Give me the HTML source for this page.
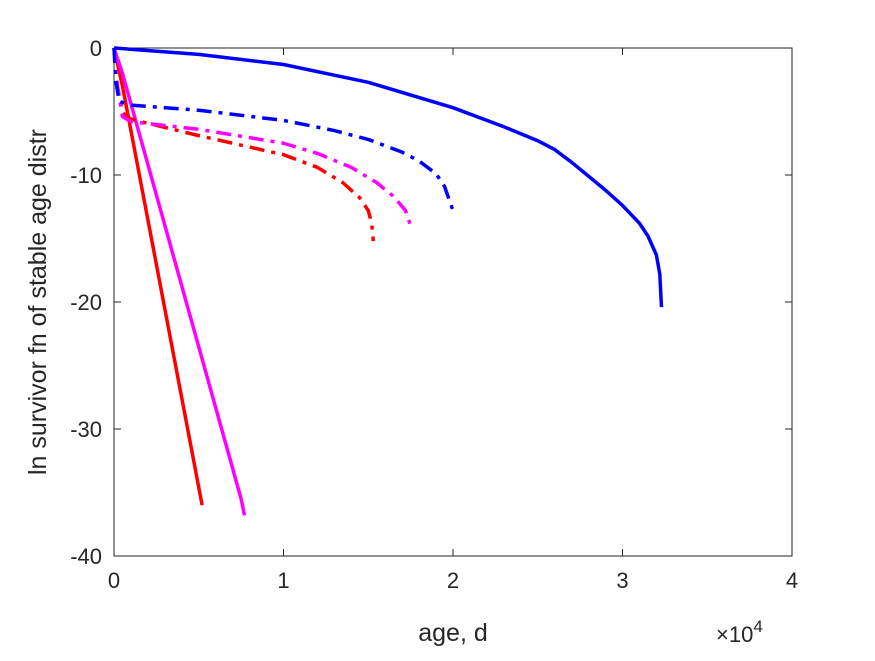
<!DOCTYPE html>
<html><head><meta charset="utf-8"><style>body{margin:0;background:#fff}svg{font-family:"Liberation Sans",sans-serif}</style></head>
<body>
<svg id="c" width="875" height="656"></svg>
<script>
const xTicks=[0,1,2,3,4];
const yTicks=[0,-10,-20,-30,-40];
const blueSolidX=[0,0.5,1,1.5,2,2.3,2.5,2.6,2.7,2.8,2.9,3,3.1,3.15,3.2,3.22,3.23];
const blueSolidY=[0,-0.5,-1.3,-2.7,-4.7,-6.2,-7.3,-8.0,-9.0,-10.1,-11.2,-12.4,-13.8,-14.8,-16.3,-17.8,-20.4];
const blueDashX=[0,0.01,0.03,0.1,0.5,1,1.3,1.5,1.7,1.8,1.9,1.95,2.0];
const blueDashY=[0,-2.5,-4.2,-4.5,-4.9,-5.7,-6.5,-7.2,-8.2,-8.9,-9.9,-10.9,-12.8];
const magDashX=[0,0.02,0.05,0.1,0.5,1,1.2,1.4,1.55,1.65,1.72,1.75];
const magDashY=[0,-3,-5.4,-5.8,-6.4,-7.5,-8.3,-9.4,-10.6,-11.7,-12.8,-14];
const redDashX=[0,0.02,0.05,0.1,0.5,1,1.2,1.35,1.45,1.5,1.52,1.53];
const redDashY=[0,-3,-5.1,-5.6,-6.9,-8.4,-9.4,-10.6,-11.8,-12.8,-13.8,-15.2];
const redSolidX=[0,0.05,0.52];
const redSolidY=[0,-3,-36];
const magSolidX=[0,0.05,0.75,0.77];
const magSolidY=[0,-2,-35.5,-36.8];
const L=114,R=792,T=48,B=556;
const sx=v=>L+(v-0)/4*(R-L), sy=v=>T+(0-v)/40*(B-T);
const svg=document.getElementById('c');const NS='http://www.w3.org/2000/svg';
function mk(t,a,p){const e=document.createElementNS(NS,t);for(const k in a)e.setAttribute(k,a[k]);(p||svg).appendChild(e);return e;}
const box=mk('rect',{x:L,y:T,width:R-L,height:B-T,fill:'#fff',stroke:'#262626','stroke-width':1});


xTicks.forEach(v=>{mk('line',{x1:sx(v),x2:sx(v),y1:B,y2:B-7,stroke:'#262626'});mk('line',{x1:sx(v),x2:sx(v),y1:T,y2:T+7,stroke:'#262626'});
 const t=mk('text',{x:sx(v),y:B+32,'text-anchor':'middle','font-size':22,fill:'#262626'});t.textContent=v;
 
 });
yTicks.forEach(v=>{mk('line',{x1:L,x2:L+7,y1:sy(v),y2:sy(v),stroke:'#262626'});mk('line',{x1:R,x2:R-7,y1:sy(v),y2:sy(v),stroke:'#262626'});
 const t=mk('text',{x:L-12,y:sy(v)+8,'text-anchor':'end','font-size':22,fill:'#262626'});t.textContent=v;
 
 });
function line(xs,ys,col,dash,name){const p=mk('polyline',{points:xs.map((x,i)=>sx(x)+','+sy(ys[i])).join(' '),fill:'none',stroke:col,'stroke-width':3.5,'stroke-linejoin':'round','stroke-dasharray':dash||'none'});
 
 }
line(redSolidX,redSolidY,'#ff0000','','red-solid-line');
line(magSolidX,magSolidY,'#ff00ff','','magenta-solid-line');
line(redDashX,redDashY,'#ff0000','15,7,4,7','red-dashdot-line');
line(magDashX,magDashY,'#ff00ff','15,7,4,7','magenta-dashdot-line');
line(blueDashX,blueDashY,'#0000ff','15,7,4,7','blue-dashdot-line');
line(blueSolidX,blueSolidY,'#0000ff','','blue-solid-line');
const xl=mk('text',{x:453,y:641,'text-anchor':'middle','font-size':25,fill:'#262626'});xl.textContent='age, d';


const yl=mk('text',{x:0,y:0,transform:'translate(46,302) rotate(-90)','text-anchor':'middle','font-size':25,fill:'#262626'});yl.textContent='ln survivor fn of stable age distr';


const ex=mk('text',{x:716,y:642,'font-size':22,fill:'#262626'});ex.innerHTML='×10<tspan dy="-10" font-size="17">4</tspan>';


</script>
</body></html>
